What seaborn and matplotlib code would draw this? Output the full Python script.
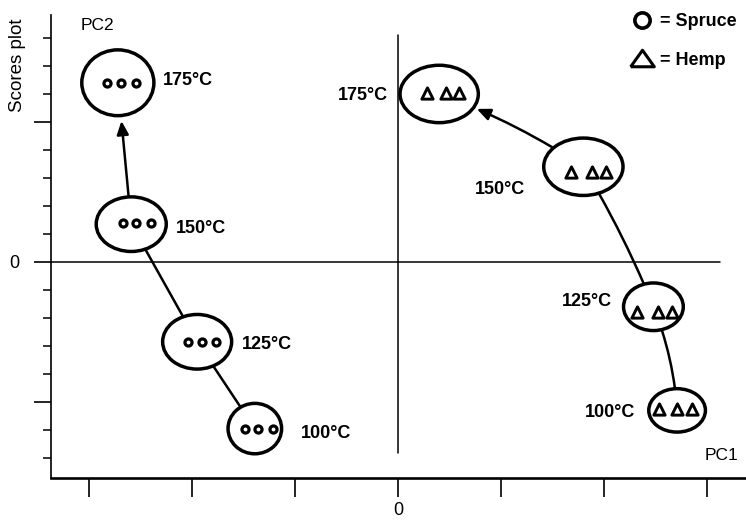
import numpy as np
import pandas as pd
import matplotlib
matplotlib.use("Agg")
import matplotlib.pyplot as plt
import seaborn as sns
from matplotlib.patches import Ellipse, FancyArrowPatch
from matplotlib.lines import Line2D

# ---------------------------------------------------------------- data
temperatures = ["100°C", "125°C", "150°C", "175°C"]

# replicate scores, one row per temperature (100 -> 175 °C)
spruce_pc1 = [[-1.49, -1.36, -1.21],
              [-2.04, -1.90, -1.77],
              [-2.67, -2.54, -2.40],
              [-2.83, -2.69, -2.54]]
spruce_pc2 = [-1.19, -0.57, 0.28, 1.28]

hemp_pc1 = [[2.53, 2.71, 2.85],
            [2.32, 2.52, 2.66],
            [1.68, 1.88, 2.02],
            [0.28, 0.47, 0.59]]
hemp_pc2 = [-1.05, -0.36, 0.64, 1.21]

# group ellipses: centre, full width and height (score units)
spruce_ell_pc1 = [-1.39, -1.95, -2.59, -2.72]
spruce_ell_pc2 = [-1.19, -0.57, 0.27, 1.28]
spruce_ell_w = [0.52, 0.67, 0.68, 0.70]
spruce_ell_h = [0.36, 0.39, 0.39, 0.47]

hemp_ell_pc1 = [2.71, 2.48, 1.80, 0.40]
hemp_ell_pc2 = [-1.06, -0.32, 0.68, 1.20]
hemp_ell_w = [0.55, 0.58, 0.77, 0.76]
hemp_ell_h = [0.31, 0.34, 0.41, 0.41]

x_ticks = [-3, -2, -1, 0, 1, 2, 3]
x_tick_labels = ["", "", "", "0", "", "", ""]
y_ticks = [-1, 0, 1]
y_tick_labels = ["", "0", ""]

# ---------------------------------------------------------------- layout
# label offsets from the ellipse centre, in points
spruce_label_offsets = [(33, -3.6), (32, -2.2), (32.5, -2.9), (32.5, 1.8)]
hemp_label_offsets = [(-30, -1.4), (-30, 3.6), (-42, -16.6), (-37, -1.1)]
spruce_rad = [0.0, 0.0, 0.0]
hemp_rad = [0.08, 0.04, 0.06]

rows = []
for t, xs, y in zip(temperatures, spruce_pc1, spruce_pc2):
    for x in xs:
        rows.append({"species": "Spruce", "temperature": t, "PC1": x, "PC2": y})
for t, xs, y in zip(temperatures, hemp_pc1, hemp_pc2):
    for x in xs:
        rows.append({"species": "Hemp", "temperature": t, "PC1": x, "PC2": y})
scores = pd.DataFrame(rows)

sns.set_style("ticks", {"axes.edgecolor": "black", "xtick.color": "black",
                        "ytick.color": "black", "text.color": "black",
                        "axes.labelcolor": "black"})
plt.rcParams["font.family"] = ["Liberation Sans", "DejaVu Sans"]

fig = plt.figure(figsize=(7.46, 5.20), dpi=100)
ax = fig.add_axes([51 / 746, 42 / 520, 695 / 746, 463 / 520])

ax.set_xlim(-3.369, 3.379)
ax.set_ylim(-1.543, 1.764)

# reference axes through the origin
ax.axhline(0, xmin=0, xmax=(720 - 51) / 695, color="black", lw=1.1, zorder=1)
ax.axvline(0, ymin=(478 - 453) / 463, ymax=(478 - 35) / 463, color="black", lw=1.1, zorder=1)


def draw_group(cx, cy, ws, hs, rads, arrow_shrink):
    ells = []
    for x, y, w, h in zip(cx, cy, ws, hs):
        e = Ellipse((x, y), w, h, facecolor="white", edgecolor="black", lw=2.5, zorder=3)
        ax.add_patch(e)
        ells.append(e)
    n = len(ells)
    for i in range(n - 1):
        last = i == n - 2
        style = "-|>,head_length=0.5,head_width=0.22" if last else "-"
        arr = FancyArrowPatch((cx[i], cy[i]), (cx[i + 1], cy[i + 1]),
                              patchA=ells[i], patchB=ells[i + 1],
                              arrowstyle=style, mutation_scale=16,
                              connectionstyle=f"arc3,rad={rads[i]}",
                              shrinkA=0, shrinkB=arrow_shrink if last else 0,
                              color="black", lw=1.8, zorder=2)
        ax.add_patch(arr)
    return ells


draw_group(spruce_ell_pc1, spruce_ell_pc2, spruce_ell_w, spruce_ell_h, spruce_rad, 3)
draw_group(hemp_ell_pc1, hemp_ell_pc2, hemp_ell_w, hemp_ell_h, hemp_rad, 1.5)

sns.scatterplot(data=scores[scores.species == "Spruce"], x="PC1", y="PC2",
                marker="o", s=26, facecolor="white", edgecolor="black",
                linewidth=2.3, legend=False, ax=ax, zorder=4)
sns.scatterplot(data=scores[scores.species == "Hemp"], x="PC1", y="PC2",
                marker="^", s=66, facecolor="white", edgecolor="black",
                linewidth=2.1, legend=False, ax=ax, zorder=4)

# temperature labels
for t, x, y, off in zip(temperatures, spruce_ell_pc1, spruce_ell_pc2, spruce_label_offsets):
    ax.annotate(t, (x, y), xytext=off, textcoords="offset points",
                ha="left", va="center", fontsize=13, fontweight="bold")
for t, x, y, off in zip(temperatures, hemp_ell_pc1, hemp_ell_pc2, hemp_label_offsets):
    ax.annotate(t, (x, y), xytext=off, textcoords="offset points",
                ha="right", va="center", fontsize=13, fontweight="bold")

# axes styling
for side in ("top", "right"):
    ax.spines[side].set_visible(False)
ax.spines["left"].set_linewidth(1.2)
ax.spines["bottom"].set_linewidth(1.9)

ax.set_xticks(x_ticks)
ax.set_xticklabels(x_tick_labels)
ax.set_yticks(y_ticks)
ax.set_yticklabels(y_tick_labels)
ax.set_yticks(np.round(np.arange(-1.4, 1.61, 0.2), 1), minor=True)
ax.tick_params(axis="x", direction="out", length=13.5, width=1.2, pad=4,
               labelsize=13, colors="black")
ax.tick_params(axis="y", which="major", direction="out", length=12, width=1.2,
               pad=11, labelsize=13, colors="black")
ax.tick_params(axis="y", which="minor", direction="out", length=5.5, width=1.1,
               colors="black")
ax.set_xlabel("")
ax.set_ylabel("")

fig.text(18 / 746, 1 - 65 / 520, "Scores plot", rotation=90,
         ha="center", va="center", fontsize=13.5)
fig.text(97 / 746, 1 - 25.5 / 520, "PC2", ha="center", va="center", fontsize=12.5)
fig.text(721.5 / 746, 1 - 455 / 520, "PC1", ha="center", va="center", fontsize=12.5)

handles = [
    Line2D([], [], ls="", marker="o", ms=11, mfc="white", mec="black", mew=2.6),
    Line2D([], [], ls="", marker=[(-1, -0.7), (1, -0.7), (0, 0.7), (-1, -0.7)],
           ms=17, mfc="white", mec="black", mew=2.2),
]
fig.legend(handles, ["= Spruce", "= Hemp"], loc="upper left",
           bbox_to_anchor=(628 / 746, 1 - 13 / 520), frameon=False,
           prop={"weight": "bold", "size": 13}, handlelength=1.5,
           handletextpad=0.25, labelspacing=1.2, borderpad=0, borderaxespad=0)

fig.savefig("out.png", dpi=100)
